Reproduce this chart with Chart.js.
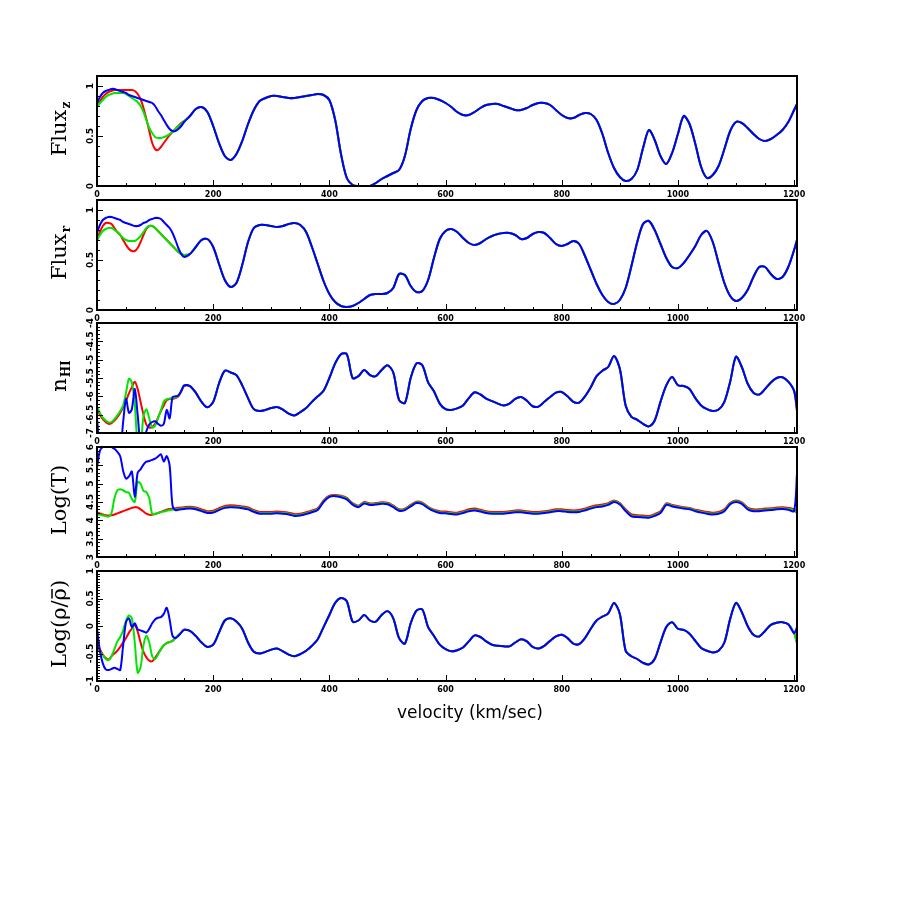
<!DOCTYPE html>
<html>
<head>
<meta charset="utf-8">
<script src="https://cdn.jsdelivr.net/npm/chart.js@4"></script>
<style>
  body { margin: 0; background: #fff; }
  #page { position: relative; width: 900px; height: 900px; }
  canvas { position: absolute; left: 0; }
</style>
</head>
<body>
<div id="page"></div>
<script>
// velocity grid (km/sec): fine steps over the first 150, then every 10
const velHead = [0, 5, 10, 15, 20, 25, 30, 35, 40, 45, 50, 55, 60, 65, 70, 75, 80, 85, 90, 95, 100, 105, 110, 115, 120, 125, 130, 135, 140, 145, 150]
const velTail = [160, 170, 180, 190, 200, 210, 220, 230, 240, 250, 260, 270, 280, 290, 300, 310, 320, 330, 340, 350,
  360, 370, 380, 390, 400, 410, 420, 430, 440, 450, 460, 470, 480, 490, 500, 510, 520, 530, 540, 550,
  560, 570, 580, 590, 600, 610, 620, 630, 640, 650, 660, 670, 680, 690, 700, 710, 720, 730, 740, 750,
  760, 770, 780, 790, 800, 810, 820, 830, 840, 850, 860, 870, 880, 890, 900, 910, 920, 930, 940, 950,
  960, 970, 980, 990, 1000, 1010, 1020, 1030, 1040, 1050, 1060, 1070, 1080, 1090, 1100, 1110, 1120, 1130, 1140, 1150,
  1160, 1170, 1180, 1190, 1200]
const velEdge = [1205]

const xTicks = [0, 200, 400, 600, 800, 1000, 1200]
const xMinorStep = 50

// Flux_z
const fluxZRedHead = [.80, .85, .89, .92, .94, .95, .96, .96, .96, .96, .96, .96, .96, .95, .92, .87, .78, .67, .55, .43, .37, .36, .39, .43, .47, .51, .54, .57, .60, .63, .65]
const fluxZGreenHead = [.79, .83, .86, .89, .91, .92, .93, .93, .93, .93, .92, .90, .88, .86, .84, .80, .74, .66, .58, .53, .49, .48, .48, .49, .50, .52, .54, .57, .60, .62, .65]
const fluxZBlueHead = [.83, .89, .93, .95, .96, .97, .97, .96, .95, .94, .93, .91, .90, .89, .88, .87, .86, .85, .84, .83, .80, .75, .71, .66, .61, .57, .55, .55, .57, .60, .64]
const fluxZTail = [.70, .77, .79, .74, .60, .43, .30, .26, .32, .45,
  .62, .76, .85, .88, .90, .90, .89, .88, .88, .89,
  .90, .91, .92, .91, .86, .66, .32, .08, .01, 0,
  0, 0, .03, .07, .10, .13, .16, .30, .57, .76,
  .85, .88, .88, .86, .83, .79, .74, .71, .71, .74,
  .78, .81, .82, .82, .80, .78, .76, .76, .78, .81,
  .83, .83, .81, .76, .71, .68, .68, .71, .73, .72,
  .66, .52, .33, .18, .09, .05, .07, .16, .38, .56,
  .46, .30, .22, .33, .52, .70, .62, .42, .19, .08,
  .11, .20, .37, .55, .64, .63, .58, .52, .47, .45,
  .47, .51, .56, .64, .76]
const fluxZEdge = [.82, .82, .82]

// Flux_r
const fluxRRedHead = [.70, .78, .84, .87, .87, .86, .82, .78, .75, .70, .65, .61, .59, .59, .62, .68, .75, .81, .84, .84, .82, .79, .76, .73, .70, .67, .64, .61, .58, .56, .55]
const fluxRGreenHead = [.70, .75, .79, .81, .82, .82, .80, .78, .75, .72, .70, .69, .69, .69, .71, .74, .78, .82, .84, .84, .82, .79, .76, .73, .70, .67, .64, .61, .58, .56, .55]
const fluxRBlueHead = [.77, .85, .90, .92, .93, .93, .92, .91, .90, .88, .87, .86, .85, .84, .84, .85, .87, .88, .90, .91, .92, .92, .91, .88, .85, .82, .77, .70, .62, .56, .53]
const fluxRTail = [.56, .63, .70, .71, .63, .46, .30, .23, .27, .45,
  .68, .82, .85, .85, .84, .83, .84, .86, .87, .85,
  .78, .63, .46, .29, .16, .08, .04, .03, .04, .07,
  .11, .15, .16, .16, .17, .22, .36, .35, .24, .18,
  .19, .30, .52, .71, .79, .81, .78, .72, .67, .65,
  .67, .71, .74, .76, .77, .77, .75, .71, .72, .76,
  .78, .77, .72, .66, .64, .66, .69, .66, .54, .40,
  .26, .15, .08, .06, .10, .22, .44, .68, .86, .89,
  .80, .66, .52, .43, .42, .47, .55, .64, .75, .79,
  .68, .47, .27, .14, .09, .12, .20, .33, .43, .43,
  .36, .31, .33, .43, .60]
const fluxREdge = [.70, .70, .70]

// n_HI (log)
const nhiRedHead = [-6.32, -6.5, -6.62, -6.7, -6.75, -6.73, -6.66, -6.57, -6.45, -6.3, -6.12, -5.92, -5.75, -5.6, -5.8, -6.15, -6.5, -6.77, -6.85, -6.84, -6.75, -6.58, -6.4, -6.25, -6.1, -6.07, -6.07, -6.05, -6.0, -5.87, -5.72]
const nhiGreenHead = [-6.3, -6.45, -6.58, -6.66, -6.71, -6.7, -6.62, -6.52, -6.4, -6.25, -5.9, -5.52, -5.62, -6.2, -7.3, -7.3, -6.55, -6.35, -6.6, -6.85, -6.8, -6.6, -6.38, -6.14, -6.08, -6.06, -6.05, -6.03, -5.98, -5.85, -5.7]
const nhiBlueHead = [-6.6, -7.4, -7.5, -7.5, -7.5, -7.5, -7.5, -7.5, -7.5, -6.7, -6.07, -6.45, -6.35, -5.8, -6.5, -7.3, -7.3, -6.95, -6.77, -6.7, -6.68, -6.75, -6.8, -6.75, -6.37, -6.6, -6.02, -6.0, -5.98, -5.85, -5.7]
const nhiTail = [-5.72, -5.9, -6.15, -6.3, -6.15, -5.65, -5.3, -5.35, -5.42, -5.7,
  -6.05, -6.35, -6.4, -6.37, -6.32, -6.29, -6.36, -6.47, -6.52, -6.43,
  -6.32, -6.15, -6.0, -5.85, -5.5, -5.1, -4.85, -4.85, -5.5, -5.45,
  -5.28, -5.42, -5.45, -5.28, -5.15, -5.35, -6.1, -6.18, -5.5, -5.1,
  -5.15, -5.62, -5.86, -6.2, -6.35, -6.37, -6.33, -6.25, -6.05, -5.89,
  -5.95, -6.06, -6.13, -6.2, -6.25, -6.2, -6.07, -6.02, -6.12, -6.27,
  -6.28, -6.15, -6.02, -5.9, -5.88, -6.0, -6.15, -6.17, -6.0, -5.75,
  -5.45, -5.3, -5.2, -4.9, -5.25, -6.25, -6.56, -6.64, -6.75, -6.82,
  -6.66, -6.15, -5.7, -5.47, -5.7, -5.72, -5.8, -6.05, -6.25, -6.35,
  -6.4, -6.36, -6.15, -5.6, -4.92, -5.2, -5.65, -5.9, -5.95, -5.8,
  -5.62, -5.5, -5.48, -5.6, -5.85]
const nhiEdge = [-6.4, -6.3, -6.37]

// Log(T)
const logTRedHead = [4.22, 4.19, 4.16, 4.14, 4.13, 4.14, 4.16, 4.19, 4.22, 4.25, 4.28, 4.31, 4.34, 4.36, 4.35, 4.3, 4.24, 4.18, 4.15, 4.15, 4.17, 4.2, 4.23, 4.26, 4.29, 4.31, 4.32, 4.33, 4.34, 4.35, 4.36]
const logTGreenHead = [4.17, 4.15, 4.13, 4.12, 4.1, 4.2, 4.6, 4.82, 4.85, 4.82, 4.77, 4.75, 4.58, 4.5, 5.05, 5.0, 4.8, 4.77, 4.6, 4.17, 4.18, 4.2, 4.22, 4.24, 4.26, 4.28, 4.29, 4.3, 4.31, 4.32, 4.33]
const logTBlueHead = [5.44, 5.9, 6.0, 6.05, 6.05, 6.0, 5.95, 5.87, 5.75, 5.35, 5.14, 5.2, 5.33, 4.64, 5.3, 5.39, 5.52, 5.6, 5.62, 5.65, 5.68, 5.74, 5.8, 5.6, 5.75, 5.5, 4.4, 4.28, 4.29, 4.3, 4.31]
const logTRedTail = [4.37, 4.35, 4.3, 4.25, 4.26, 4.33, 4.39, 4.41, 4.4, 4.38,
  4.35, 4.28, 4.23, 4.23, 4.23, 4.24, 4.23, 4.21, 4.17, 4.18,
  4.22, 4.27, 4.33, 4.54, 4.67, 4.69, 4.67, 4.61, 4.47, 4.4,
  4.5, 4.46, 4.47, 4.49, 4.48, 4.4, 4.3, 4.32, 4.42, 4.51,
  4.48, 4.37, 4.29, 4.25, 4.24, 4.22, 4.21, 4.25, 4.3, 4.32,
  4.29, 4.25, 4.23, 4.23, 4.23, 4.25, 4.27, 4.27, 4.25, 4.23,
  4.23, 4.25, 4.27, 4.3, 4.3, 4.28, 4.27, 4.28, 4.32, 4.37,
  4.41, 4.43, 4.47, 4.54, 4.47, 4.3, 4.16, 4.14, 4.13, 4.12,
  4.17, 4.25, 4.46, 4.42, 4.39, 4.36, 4.34, 4.29, 4.26, 4.23,
  4.21, 4.23, 4.3, 4.48, 4.54, 4.49, 4.35, 4.3, 4.3, 4.32,
  4.33, 4.35, 4.36, 4.34, 4.3]
const logTGreenTail = [4.34, 4.32, 4.27, 4.22, 4.23, 4.3, 4.36, 4.38, 4.37, 4.35,
  4.32, 4.25, 4.2, 4.2, 4.2, 4.21, 4.2, 4.18, 4.14, 4.15,
  4.19, 4.24, 4.3, 4.52, 4.65, 4.67, 4.65, 4.59, 4.45, 4.38,
  4.48, 4.44, 4.45, 4.47, 4.46, 4.38, 4.28, 4.3, 4.4, 4.49,
  4.46, 4.35, 4.27, 4.22, 4.21, 4.19, 4.18, 4.22, 4.27, 4.29,
  4.26, 4.22, 4.2, 4.2, 4.2, 4.22, 4.24, 4.24, 4.22, 4.2,
  4.2, 4.22, 4.24, 4.27, 4.27, 4.25, 4.24, 4.25, 4.29, 4.34,
  4.38, 4.4, 4.44, 4.52, 4.45, 4.27, 4.13, 4.11, 4.1, 4.09,
  4.14, 4.22, 4.44, 4.4, 4.37, 4.34, 4.32, 4.27, 4.23, 4.2,
  4.18, 4.2, 4.27, 4.46, 4.52, 4.47, 4.32, 4.27, 4.27, 4.29,
  4.3, 4.32, 4.33, 4.31, 4.27]
const logTBlueTail = [4.32, 4.3, 4.25, 4.2, 4.21, 4.28, 4.34, 4.36, 4.35, 4.33,
  4.3, 4.23, 4.18, 4.18, 4.18, 4.19, 4.18, 4.16, 4.12, 4.13,
  4.17, 4.22, 4.28, 4.5, 4.64, 4.66, 4.63, 4.57, 4.43, 4.36,
  4.46, 4.42, 4.43, 4.45, 4.44, 4.36, 4.26, 4.28, 4.38, 4.47,
  4.44, 4.33, 4.25, 4.2, 4.19, 4.17, 4.16, 4.2, 4.25, 4.27,
  4.24, 4.2, 4.18, 4.18, 4.18, 4.2, 4.22, 4.22, 4.2, 4.18,
  4.18, 4.2, 4.22, 4.25, 4.25, 4.23, 4.22, 4.23, 4.27, 4.32,
  4.36, 4.38, 4.42, 4.5, 4.43, 4.25, 4.11, 4.09, 4.08, 4.07,
  4.12, 4.2, 4.42, 4.38, 4.35, 4.32, 4.3, 4.25, 4.21, 4.18,
  4.16, 4.18, 4.25, 4.44, 4.5, 4.45, 4.3, 4.25, 4.25, 4.27,
  4.28, 4.3, 4.31, 4.29, 4.25]
const logTEdge = [4.2, 4.2, 5.27]

// Log(rho / mean rho)
const rhoRedHead = [-0.3, -0.42, -0.52, -0.58, -0.61, -0.55, -0.5, -0.45, -0.38, -0.3, -0.22, -0.12, -0.05, 0.02, -0.1, -0.3, -0.47, -0.57, -0.63, -0.64, -0.58, -0.5, -0.42, -0.35, -0.31, -0.29, -0.27, -0.22, -0.17, -0.12, -0.07]
const rhoGreenHead = [-0.41, -0.47, -0.53, -0.6, -0.62, -0.55, -0.42, -0.28, -0.2, -0.08, 0.1, 0.19, 0.14, -0.3, -0.85, -0.75, -0.35, -0.18, -0.3, -0.55, -0.6, -0.52, -0.42, -0.35, -0.31, -0.29, -0.27, -0.22, -0.17, -0.12, -0.07]
const rhoBlueHead = [-0.05, -0.45, -0.68, -0.79, -0.8, -0.78, -0.76, -0.78, -0.8, -0.35, 0.07, 0.14, -0.02, 0.05, -0.06, -0.08, -0.1, -0.12, -0.05, 0.05, 0.12, 0.15, 0.16, 0.22, 0.33, 0.12, -0.18, -0.22, -0.18, -0.12, -0.07]
const rhoTail = [-0.09, -0.18, -0.3, -0.38, -0.34, -0.12, 0.1, 0.14, 0.08, -0.05,
  -0.3, -0.47, -0.5, -0.47, -0.43, -0.41, -0.46, -0.52, -0.55, -0.51,
  -0.45, -0.36, -0.24, -0.02, 0.2, 0.42, 0.51, 0.45, 0.08, 0.1,
  0.2, 0.1, 0.08, 0.2, 0.27, 0.14, -0.22, -0.32, 0.05, 0.28,
  0.3, -0.02, -0.18, -0.34, -0.42, -0.46, -0.44, -0.39, -0.28, -0.17,
  -0.2, -0.28, -0.34, -0.36, -0.37, -0.37, -0.3, -0.24, -0.28, -0.38,
  -0.41, -0.36, -0.27, -0.19, -0.16, -0.22, -0.32, -0.33, -0.22, -0.05,
  0.1, 0.17, 0.23, 0.42, 0.22, -0.45, -0.55, -0.6, -0.67, -0.7,
  -0.6, -0.3, -0.02, 0.07, -0.05, -0.07, -0.14, -0.27, -0.4, -0.45,
  -0.48, -0.45, -0.3, 0.13, 0.42, 0.25, 0, -0.16, -0.19, -0.09,
  0.02, 0.06, 0.07, 0.03, -0.13]
const rhoEdge = [-0.3, -0.32, -0.02]

// y tick labels
const fluxTicks = [0, 0.5, 1]
const nhiTicks = [-7, -6.5, -6, -5.5, -5, -4.5, -4]
const logTTicks = [3, 3.5, 4, 4.5, 5, 5.5, 6]
const rhoTicks = [-1, -0.5, 0, 0.5, 1]

const colors = ['#ff0000', '#00e600', '#0000ff']
const vel = velHead.concat(velTail, velEdge)

const panels = [
  {
    title: [{ t: 'Flux' }, { t: 'z', sub: true }],
    min: 0, max: 1.1, ticks: fluxTicks, minor: 0.1,
    series: [fluxZRedHead.concat(fluxZTail, fluxZEdge[0]), fluxZGreenHead.concat(fluxZTail, fluxZEdge[1]), fluxZBlueHead.concat(fluxZTail, fluxZEdge[2])],
  },
  {
    title: [{ t: 'Flux' }, { t: 'r', sub: true }],
    min: 0, max: 1.1, ticks: fluxTicks, minor: 0.1,
    series: [fluxRRedHead.concat(fluxRTail, fluxREdge[0]), fluxRGreenHead.concat(fluxRTail, fluxREdge[1]), fluxRBlueHead.concat(fluxRTail, fluxREdge[2])],
  },
  {
    title: [{ t: 'n' }, { t: 'HI', sub: true }],
    min: -7, max: -4, ticks: nhiTicks, minor: 0.1,
    series: [nhiRedHead.concat(nhiTail, nhiEdge[0]), nhiGreenHead.concat(nhiTail, nhiEdge[1]), nhiBlueHead.concat(nhiTail, nhiEdge[2])],
  },
  {
    title: [{ t: 'Log(T)' }],
    min: 3, max: 6, ticks: logTTicks, minor: 0.1,
    series: [logTRedHead.concat(logTRedTail, logTEdge[0]), logTGreenHead.concat(logTGreenTail, logTEdge[1]), logTBlueHead.concat(logTBlueTail, logTEdge[2])],
  },
  {
    title: [{ t: 'Log(ρ/' }, { t: 'ρ', over: true }, { t: ')' }],
    min: -1, max: 1, ticks: rhoTicks, minor: 0.05,
    series: [rhoRedHead.concat(rhoTail, rhoEdge[0]), rhoGreenHead.concat(rhoTail, rhoEdge[1]), rhoBlueHead.concat(rhoTail, rhoEdge[2])],
    xTitle: 'velocity (km/sec)',
  },
]

const panelTops = [76, 200, 323, 447, 571]
const tickFont = 'bold 8px "DejaVu Sans"'
const yTickFont = 'bold 9px "DejaVu Sans"'

function line(ctx, x1, y1, x2, y2) {
  ctx.beginPath()
  ctx.moveTo(x1, y1)
  ctx.lineTo(x2, y2)
  ctx.stroke()
}

function drawTitle(ctx, parts, cx, cy) {
  const mainFont = '21px "DejaVu Serif"'
  const subFont = 'bold 12px "DejaVu Serif"'
  ctx.save()
  ctx.translate(cx, cy)
  ctx.rotate(-Math.PI / 2)
  ctx.textBaseline = 'alphabetic'
  ctx.textAlign = 'left'
  let total = 0
  const widths = parts.map(p => {
    ctx.font = p.sub ? subFont : mainFont
    const w = ctx.measureText(p.t).width + (p.sub ? 1 : 0)
    total += w
    return w
  })
  let pos = -total / 2
  parts.forEach((p, i) => {
    ctx.font = p.sub ? subFont : mainFont
    ctx.fillText(p.t, pos + (p.sub ? 1 : 0), p.sub ? 4 : 0)
    if (p.over) {
      ctx.lineWidth = 1.5
      line(ctx, pos + 2, -14, pos + widths[i] - 1, -14)
    }
    pos += widths[i]
  })
  ctx.restore()
}

const panelFrame = {
  id: 'panelFrame',
  afterDatasetsDraw(chart, args, opts) {
    const { ctx, chartArea: area } = chart
    const xs = chart.scales.x
    const ys = chart.scales.y
    ctx.save()
    ctx.strokeStyle = '#000'
    ctx.fillStyle = '#000'

    // x ticks, pointing into the plot
    ctx.lineWidth = 1
    for (let k = 0; k * xMinorStep <= 1200; k++) {
      const v = k * xMinorStep
      const px = Math.round(xs.getPixelForValue(v)) + 0.5
      line(ctx, px, area.bottom, px, area.bottom - (xTicks.includes(v) ? 6 : 3))
    }
    ctx.font = tickFont
    ctx.textAlign = 'center'
    ctx.textBaseline = 'alphabetic'
    xTicks.forEach(v => {
      ctx.fillText(String(v), xs.getPixelForValue(v), area.bottom + 11)
    })

    // y ticks
    const n = Math.round((opts.max - opts.min) / opts.minor)
    for (let k = 0; k <= n; k++) {
      const v = opts.min + k * opts.minor
      const py = Math.round(ys.getPixelForValue(v)) + 0.5
      const major = opts.ticks.some(t => Math.abs(t - v) < 1e-6)
      line(ctx, area.left, py, area.left + (major ? 6 : 3), py)
    }
    ctx.font = yTickFont
    opts.ticks.forEach(v => {
      ctx.save()
      ctx.translate(area.left - 4, ys.getPixelForValue(v))
      ctx.rotate(-Math.PI / 2)
      ctx.textAlign = 'center'
      ctx.fillText(String(v), 0, 0)
      ctx.restore()
    })

    // frame
    ctx.lineWidth = 2
    ctx.strokeRect(area.left, area.top, area.right - area.left, area.bottom - area.top)

    drawTitle(ctx, opts.title, 66, (area.top + area.bottom) / 2 - 2)

    if (opts.xTitle) {
      ctx.font = '17px "DejaVu Sans"'
      ctx.textAlign = 'center'
      ctx.textBaseline = 'alphabetic'
      ctx.fillText(opts.xTitle, 470, area.bottom + 37)
    }
    ctx.restore()
  },
}

const page = document.getElementById('page')

panels.forEach((panel, i) => {
  const canvas = document.createElement('canvas')
  canvas.width = 900
  canvas.height = 180
  canvas.style.top = panelTops[i] - 20 + 'px'
  page.appendChild(canvas)

  // blue drawn on top, then green, then red
  const order = [2, 1, 0]
  const datasets = order.map(s => ({
    data: vel.map((v, j) => ({ x: v, y: panel.series[s][j] })),
    borderColor: colors[s],
    borderWidth: 2,
    pointRadius: 0,
    tension: 0.3,
    fill: false,
  }))

  new Chart(canvas, {
    type: 'line',
    data: { datasets: datasets },
    options: {
      responsive: false,
      animation: false,
      layout: { padding: { top: 20, left: 97, right: 103, bottom: 50 } },
      scales: {
        x: { type: 'linear', min: 0, max: 1205, display: false },
        y: { type: 'linear', min: panel.min, max: panel.max, display: false },
      },
      plugins: {
        legend: { display: false },
        tooltip: { enabled: false },
        panelFrame: {
          title: panel.title,
          min: panel.min,
          max: panel.max,
          ticks: panel.ticks,
          minor: panel.minor,
          xTitle: panel.xTitle,
        },
      },
    },
    plugins: [panelFrame],
  })
})
</script>
</body>
</html>
